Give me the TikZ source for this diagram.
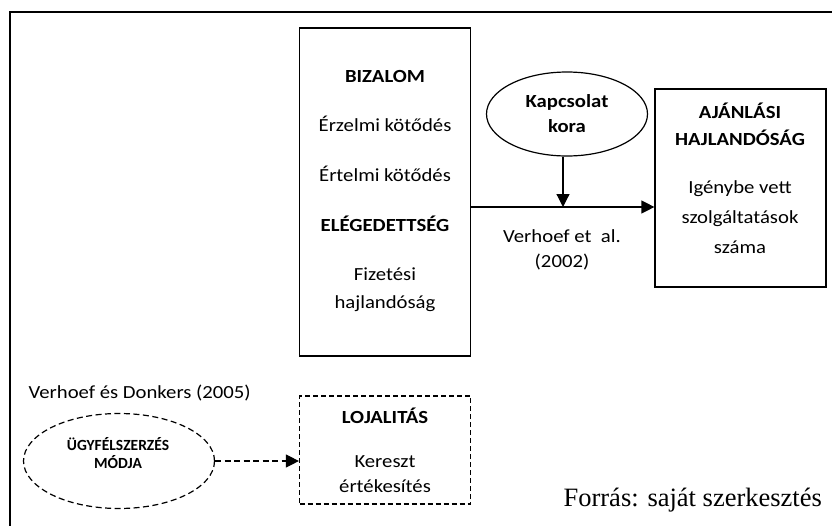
\documentclass[tikz,border=0pt]{standalone}
\usepackage{fontspec}
\setmainfont{Carlito}[FakeStretch=1.12]
\newfontfamily\narrowfont{Carlito}
\newfontfamily\sourcefont{Liberation Serif}
\usetikzlibrary{arrows.meta, positioning, shapes.geometric}

\begin{document}
\begin{tikzpicture}[x=1pt, y=-1pt,
      txt/.style={font=\fontsize{18.5}{25}\selectfont, align=center, inner sep=0pt, anchor=base},
      hd/.style={txt, font=\fontsize{18.5}{27}\selectfont\bfseries},
      box/.style={draw, line width=1.2pt, inner sep=0pt},
      dsh/.style={dash pattern=on 6pt off 3.5pt},
      >={Triangle[length=13pt, width=13pt]}, line width=1.2pt]
    \clip (0,0) rectangle (832,525);
    \draw[line width=2pt] (10,540) -- (10,12) -- (850,12);
    % upper part
    \node[box, minimum width=171, minimum height=328] (trust) at (385,192) {};
    \node[hd]  (bizalom) at (385,82.7)  {BIZALOM};
    \node[txt] (erz)     at (385,131.7) {Érzelmi kötődés};
    \node[txt] (ert)     at (385,181.7) {Értelmi kötődés};
    \node[hd]  (eleg)    at (385,231.7) {ELÉGEDETTSÉG};
    \node[txt, font=\fontsize{18.5}{28}\selectfont] (fiz) at (385,308) {Fizetési\\hajlandóság};
    \node[box, ellipse, minimum width=161, minimum height=84,
          font=\fontsize{18.5}{25}\selectfont\bfseries, align=center] (age) at (567,114) {Kapcsolat\\kora};
    \node[box, minimum width=171, minimum height=198] (rec) at (740.5,188) {};
    \node[hd]  (ajanl)   at (740,145) {AJÁNLÁSI\\HAJLANDÓSÁG};
    \node[txt, font=\fontsize{18.5}{30}\selectfont] (igeny) at (740,253) {Igénybe vett\\szolgáltatások\\száma};
    \coordinate (joint) at (563,207);
    \draw[->] (trust.east |- joint) -- (rec.west |- joint);
    \draw[->] (age.south -| joint) -- (joint);
    \node[txt] (ref1) at (562,267) {Verhoef et\ \ al.\\(2002)};
    % lower part
    \node[txt, anchor=base west] (ref2) at (28,398) {Verhoef és Donkers (2005)};
    \node[box, ellipse, dsh, minimum width=191, minimum height=95] (acq) at (119,461) {};
    \node[txt, font=\narrowfont\fontsize{15.5}{18}\selectfont\bfseries] (acqtxt) at (118,468) {ÜGYFÉLSZERZÉS\\MÓDJA};
    \node[box, dash pattern=on 5pt off 3pt, minimum width=171, minimum height=108] (loy) at (385,450) {};
    \node[hd]  (lojal)   at (385,423) {LOJALITÁS};
    \node[txt] (kereszt) at (385,492) {Kereszt\\értékesítés};
    \draw[->, dsh] (acq.east) -- (acq.east -| loy.west);
    \node[anchor=base west, inner sep=0pt, font=\sourcefont\fontsize{26.5}{30}\selectfont] (src) at (563,506) {Forrás: saját szerkesztés};
  \end{tikzpicture}
\end{document}
